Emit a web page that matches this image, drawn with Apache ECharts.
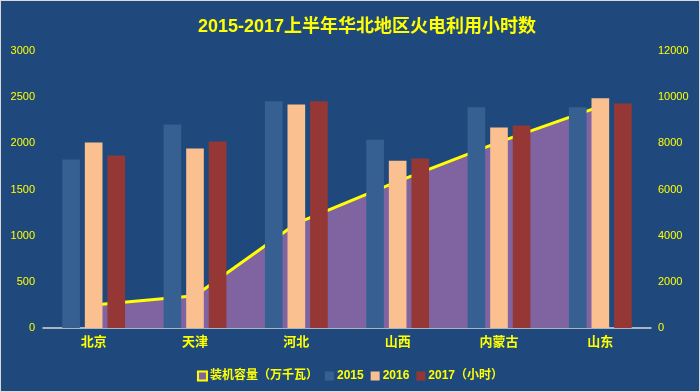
<!DOCTYPE html>
<html>
<head>
<meta charset="utf-8">
<script src="https://cdn.jsdelivr.net/npm/echarts@6/dist/echarts.min.js"></script>
<style>
html,body{margin:0;padding:0;background:#fff;}
#wrap{width:700px;height:392px;box-sizing:border-box;border:1px solid #D9D9D9;background:#1F497D;}
#chart{width:698px;height:390px;}
</style>
</head>
<body>
<div id="wrap"><div id="chart"></div></div>
<script>
const categories = ['北京', '天津', '河北', '山西', '内蒙古', '山东'];
const capacity = [1000, 1400, 4530, 6350, 8050, 9600];
const hours2015 = [1825, 2205, 2455, 2040, 2390, 2390];
const hours2016 = [2010, 1945, 2420, 1812, 2172, 2487];
const hours2017 = [1868, 2020, 2455, 1835, 2193, 2432];
const leftTicks = { min: 0, max: 3000, interval: 500 };
const rightTicks = { min: 0, max: 12000, interval: 2000 };

const YEL = '#FFFF00';
const font = "'Liberation Sans','Noto Sans CJK SC',sans-serif";
const plain = v => String(v);
const chart = echarts.init(document.getElementById('chart'));
chart.setOption({
  backgroundColor: '#1F497D',
  animation: false,
  title: {
    text: '2015-2017上半年华北地区火电利用小时数',
    left: 192, top: 12,
    textStyle: { color: YEL, fontSize: 18, fontWeight: 'bold', fontFamily: font }
  },
  legend: {
    top: 364, left: 'center',
    itemWidth: 9, itemHeight: 9, itemGap: 7,
    textStyle: { color: YEL, fontSize: 12, fontWeight: 'bold', fontFamily: font, padding: [0, 0, 0, -2] },
    data: [
      { name: '装机容量（万千瓦）', icon: 'rect', itemStyle: { color: '#8064A2', borderColor: YEL, borderWidth: 2 } },
      { name: '2015', icon: 'rect' },
      { name: '2016', icon: 'rect' },
      { name: '2017（小时）', icon: 'rect' }
    ]
  },
  grid: { left: 42, right: 48, top: 50, bottom: 63 },
  xAxis: {
    type: 'category', data: categories, boundaryGap: true,
    axisLine: { lineStyle: { color: '#D9D9D9', width: 1.5 } },
    axisTick: { show: false },
    axisLabel: { color: YEL, fontSize: 13, fontWeight: 'bold', fontFamily: font, margin: 8 }
  },
  yAxis: [
    {
      type: 'value', min: leftTicks.min, max: leftTicks.max, interval: leftTicks.interval,
      splitLine: { show: false }, axisLine: { show: false }, axisTick: { show: false },
      axisLabel: { color: YEL, fontSize: 11, fontFamily: font, margin: 8, formatter: plain }
    },
    {
      type: 'value', min: rightTicks.min, max: rightTicks.max, interval: rightTicks.interval,
      splitLine: { show: false }, axisLine: { show: false }, axisTick: { show: false },
      axisLabel: { color: YEL, fontSize: 11, fontFamily: font, margin: 7, formatter: plain }
    }
  ],
  series: [
    {
      name: '装机容量（万千瓦）', type: 'line', yAxisIndex: 1, data: capacity,
      symbol: 'none', z: 1,
      lineStyle: { color: YEL, width: 3 },
      itemStyle: { color: '#8064A2' },
      areaStyle: { color: '#8064A2', opacity: 1 }
    },
    { name: '2015', type: 'bar', data: hours2015, itemStyle: { color: '#376092' }, barGap: '28%', barCategoryGap: '38%', z: 2 },
    { name: '2016', type: 'bar', data: hours2016, itemStyle: { color: '#FAC090' }, barGap: '28%', barCategoryGap: '38%', z: 2 },
    { name: '2017（小时）', type: 'bar', data: hours2017, itemStyle: { color: '#953735' }, barGap: '28%', barCategoryGap: '38%', z: 2 }
  ]
});
</script>
</body>
</html>
